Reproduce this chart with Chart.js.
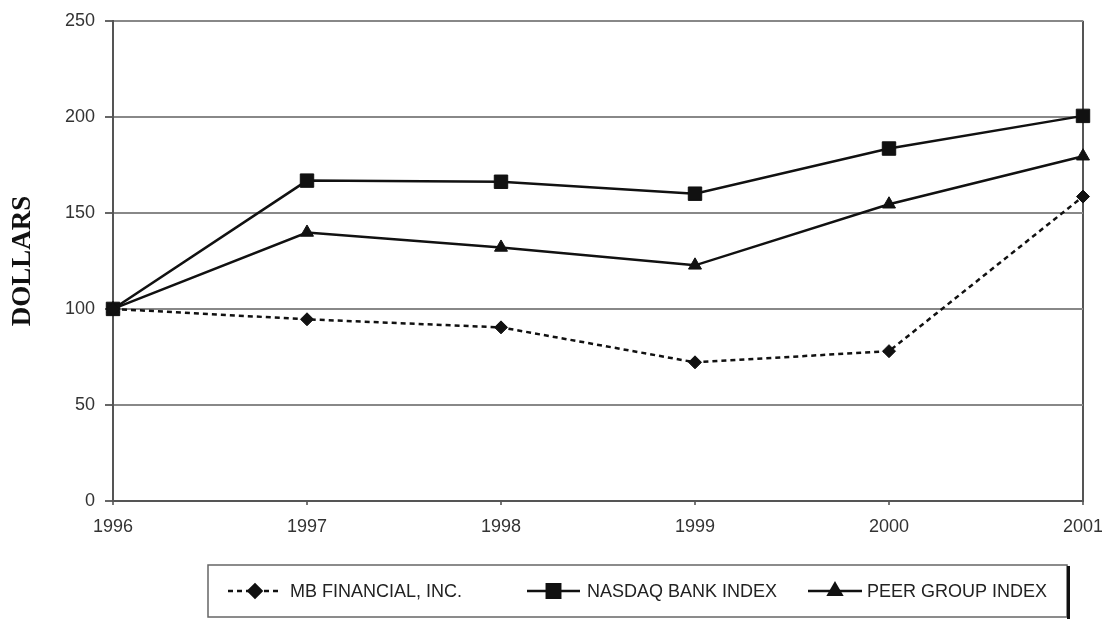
<!DOCTYPE html>
<html>
<head>
<meta charset="utf-8">
<script src="https://cdn.jsdelivr.net/npm/chart.js@4/dist/chart.umd.min.js"></script>
<style>
  html, body { margin: 0; padding: 0; background: #fff; }
  #wrap { width: 1102px; height: 619px; position: relative; }
</style>
</head>
<body>
<div id="wrap"><canvas id="grafico"></canvas></div>
<script>
const anos = ['1996', '1997', '1998', '1999', '2000', '2001'];
const mbFinancial = [100, 94.6, 90.4, 72.2, 78, 158.5];
const nasdaqBank = [100, 166.8, 166.2, 160, 183.5, 200.5];
const peerGroup = [100, 139.8, 132, 122.7, 154.5, 179.5];
const yTicks = [0, 50, 100, 150, 200, 250];

const fonte = '"Liberation Sans", Arial, sans-serif';

// legenda desenhada a mao, com caixa e sombra
const legendaBox = {
  id: 'legendaBox',
  afterDraw(chart) {
    const ctx = chart.ctx;
    ctx.save();
    ctx.strokeStyle = '#666';
    ctx.lineWidth = 1.5;
    ctx.strokeRect(208, 565, 859, 52);
    ctx.fillStyle = '#111';
    ctx.fillRect(1067, 566, 3, 53);

    const itens = [
      { x0: 228, x1: 282, label: 'MB FINANCIAL, INC.', tx: 290, ds: 0 },
      { x0: 527, x1: 580, label: 'NASDAQ BANK INDEX', tx: 587, ds: 1 },
      { x0: 808, x1: 862, label: 'PEER GROUP INDEX', tx: 867, ds: 2 }
    ];
    const y = 591;
    itens.forEach(it => {
      const d = chart.data.datasets[it.ds];
      ctx.strokeStyle = '#111';
      ctx.lineWidth = 2.5;
      ctx.setLineDash(d.borderDash || []);
      ctx.beginPath();
      ctx.moveTo(it.x0, y);
      ctx.lineTo(it.x1, y);
      ctx.stroke();
      ctx.setLineDash([]);
      ctx.fillStyle = '#111';
      Chart.helpers.drawPoint(ctx, {
        pointStyle: d.pointStyle,
        radius: d.pointRadius,
        borderWidth: 1
      }, (it.x0 + it.x1) / 2, y);
      ctx.fill();
      ctx.fillStyle = '#222';
      ctx.font = '18px ' + fonte;
      ctx.textBaseline = 'middle';
      ctx.textAlign = 'left';
      ctx.fillText(it.label, it.tx, y + 1);
    });
    ctx.restore();
  }
};

new Chart(document.getElementById('grafico'), {
  type: 'line',
  data: {
    labels: anos,
    datasets: [{
      label: 'MB FINANCIAL, INC.',
      data: mbFinancial,
      borderColor: '#111',
      backgroundColor: '#111',
      borderWidth: 2.5,
      borderDash: [5, 4],
      pointStyle: 'rectRot',
      pointRadius: 6.5,
      pointBorderWidth: 1
    },
    {
      label: 'NASDAQ BANK INDEX',
      data: nasdaqBank,
      borderColor: '#111',
      backgroundColor: '#111',
      borderWidth: 2.5,
      pointStyle: 'rect',
      pointRadius: 9.5,
      pointBorderWidth: 1
    },
    {
      label: 'PEER GROUP INDEX',
      data: peerGroup,
      borderColor: '#111',
      backgroundColor: '#111',
      borderWidth: 2.5,
      pointStyle: 'triangle',
      pointRadius: 7.5,
      pointBorderWidth: 1
    }
    ]
  },
  options: {
    responsive: true,
    maintainAspectRatio: false,
    animation: false,
    layout: { padding: { top: 20, right: 19, left: 0, bottom: 0 } },
    plugins: {
      legend: { display: false },
      tooltip: { enabled: false }
    },
    scales: {
      x: {
        offset: false,
        afterFit(scale) {
          scale.height = 118;
          scale.paddingLeft = 0;
          scale.paddingRight = 0;
        },
        grid: {
          color: c => c.index === anos.length - 1 ? '#555' : 'rgba(0,0,0,0)',
          lineWidth: 2,
          drawTicks: true,
          tickLength: 4,
          tickColor: '#777'
        },
        border: { color: '#555', width: 2 },
        ticks: {
          color: '#333',
          font: { family: fonte, size: 18 },
          padding: 11,
          maxRotation: 0
        }
      },
      y: {
        min: 0,
        max: 250,
        afterFit(scale) { scale.width = 113; },
        afterBuildTicks(scale) { scale.ticks = yTicks.map(v => ({ value: v })); },
        grid: {
          color: '#888',
          lineWidth: 2,
          tickLength: 8,
          tickColor: '#666'
        },
        border: { color: '#555', width: 2 },
        ticks: {
          color: '#333',
          font: { family: fonte, size: 18 },
          padding: 10
        },
        title: {
          display: true,
          text: 'DOLLARS',
          color: '#111',
          font: { family: '"Liberation Serif", "Times New Roman", serif', size: 27, weight: 'bold' },
          padding: { top: 7, bottom: 0 }
        }
      }
    }
  },
  plugins: [legendaBox]
});
</script>
</body>
</html>
